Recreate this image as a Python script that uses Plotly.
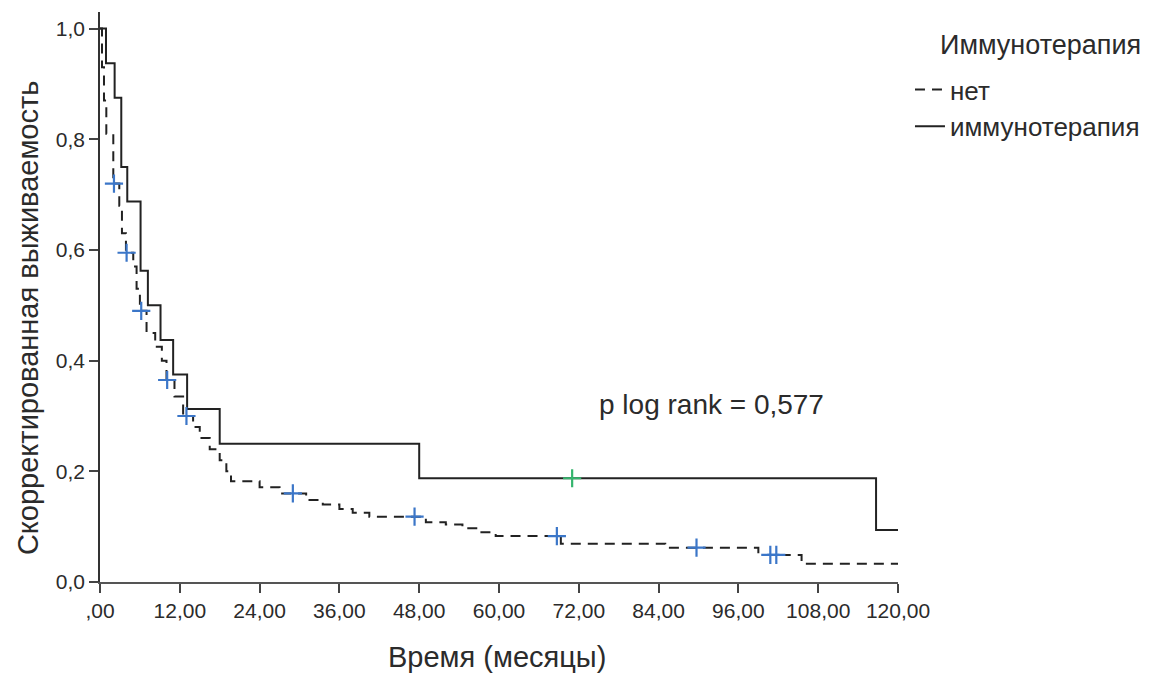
import numpy as np
import plotly.graph_objects as go

# ---- data ----
# "нет" group (dashed): step times (months) and survival after each step
none_t = [0, 0.3, 0.6, 0.95, 2.0, 2.9, 3.3, 3.9, 5.0, 5.5, 6.0, 7.0, 8.3, 9.3, 10.0,
          11.2, 12.5, 14.0, 15.0, 16.5, 18.0, 19.0, 19.7, 24.0, 27.0, 31.0, 33.5,
          36.0, 38.0, 40.5, 49.0, 52.0, 54.5, 57.0, 59.5, 69.3, 85.0, 99.0, 105.5, 120.0]
none_s = [1.0, 0.93, 0.87, 0.81, 0.72, 0.68, 0.63, 0.595, 0.57, 0.53, 0.49, 0.45, 0.425,
          0.40, 0.365, 0.335, 0.30, 0.28, 0.26, 0.24, 0.22, 0.20, 0.182, 0.171, 0.16,
          0.148, 0.14, 0.132, 0.125, 0.118, 0.108, 0.104, 0.097, 0.09, 0.083, 0.069,
          0.062, 0.049, 0.033, 0.033]
none_cens = [2.1, 4.0, 6.2, 10.1, 13.0, 29.0, 47.3, 68.7, 89.7, 100.8, 101.7]

# "иммунотерапия" group (solid)
imm_t = [0, 0.9, 2.2, 3.2, 4.1, 6.1, 7.2, 9.1, 11.0, 13.1, 18.0, 48.0, 116.7, 120.0]
imm_s = [1.0, 0.9375, 0.875, 0.75, 0.6875, 0.5625, 0.5, 0.4375, 0.375, 0.3125, 0.25,
         0.1875, 0.09375, 0.09375]
imm_cens = [71.0]

x_ticks = [0, 12, 24, 36, 48, 60, 72, 84, 96, 108, 120]
x_ticktext = [",00", "12,00", "24,00", "36,00", "48,00", "60,00", "72,00", "84,00",
              "96,00", "108,00", "120,00"]
y_ticks = [0, 0.2, 0.4, 0.6, 0.8, 1.0]
y_ticktext = ["0,0", "0,2", "0,4", "0,6", "0,8", "1,0"]


def step_value(ts, ss, c):
    i = int(np.searchsorted(np.asarray(ts), c, side="right")) - 1
    return ss[i]


FONT = "Liberation Sans, Arial, sans-serif"
TXT = "#2b2b2b"

fig = go.Figure()
fig.add_trace(go.Scatter(x=none_t, y=none_s, mode="lines", line_shape="hv",
                         name="нет",
                         line=dict(color="#222222", width=2, dash="10px,7px")))
fig.add_trace(go.Scatter(x=imm_t, y=imm_s, mode="lines", line_shape="hv",
                         name="иммунотерапия",
                         line=dict(color="#222222", width=2)))
fig.add_trace(go.Scatter(x=none_cens, y=[step_value(none_t, none_s, c) for c in none_cens],
                         mode="markers", showlegend=False,
                         marker=dict(symbol="cross-thin", size=13,
                                     line=dict(width=2.2, color="#3b76c8"))))
fig.add_trace(go.Scatter(x=imm_cens, y=[step_value(imm_t, imm_s, c) for c in imm_cens],
                         mode="markers", showlegend=False,
                         marker=dict(symbol="cross-thin", size=13,
                                     line=dict(width=2.2, color="#35b56e"))))

fig.update_layout(
    width=1167, height=675,
    margin=dict(l=92, r=277, t=4, b=101),
    plot_bgcolor="white", paper_bgcolor="white",
    font=dict(family=FONT, color=TXT, size=21),
    xaxis=dict(range=[0, 120], tickvals=x_ticks, ticktext=x_ticktext,
               showgrid=False, zeroline=False, showline=True, linecolor="#555555",
               linewidth=1.6, ticks="outside", ticklen=9, tickwidth=1.6,
               tickcolor="#444444", tickfont=dict(size=21, color=TXT),
               automargin=False),
    yaxis=dict(range=[0, 1.03], tickvals=y_ticks, ticktext=y_ticktext,
               showgrid=False, zeroline=False, showline=True, linecolor="#333333",
               linewidth=1.6, ticks="outside", ticklen=9, tickwidth=1.6,
               tickcolor="#444444", tickfont=dict(size=21, color=TXT),
               automargin=False),
    legend=dict(x=1.015, y=0.905, xanchor="left", yanchor="top",
                font=dict(size=26, color=TXT), bgcolor="rgba(0,0,0,0)",
                tracegroupgap=0),
    showlegend=True,
)

fig.add_annotation(text="Скорректированная выживаемость", xref="paper", yref="paper",
                   x=-0.0902, y=0.463, xanchor="center", yanchor="middle",
                   textangle=-90, showarrow=False, font=dict(size=29, color=TXT))
fig.add_annotation(text="Время (месяцы)", xref="paper", yref="paper",
                   x=0.4975, y=-0.1316, xanchor="center", yanchor="middle",
                   showarrow=False, font=dict(size=29, color=TXT))
fig.add_annotation(text="p log rank = 0,577", xref="x", yref="y",
                   x=92.0, y=0.321, xanchor="center", yanchor="middle",
                   showarrow=False, font=dict(size=28, color=TXT))
fig.add_annotation(text="Иммунотерапия", xref="paper", yref="paper",
                   x=1.178, y=0.942, xanchor="center", yanchor="middle",
                   showarrow=False, font=dict(size=27, color=TXT))

fig.write_html("out.html")
